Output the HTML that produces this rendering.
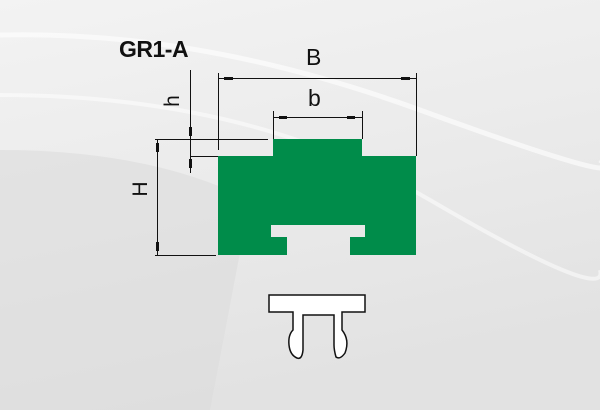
<!DOCTYPE html>
<html><head><style>
html,body{margin:0;padding:0;width:600px;height:410px;overflow:hidden}
</style></head><body>
<svg width="600" height="410" viewBox="0 0 600 410" xmlns="http://www.w3.org/2000/svg">
<defs>
<linearGradient id="bg" x1="0" y1="0" x2="0.3" y2="1">
<stop offset="0" stop-color="#f3f3f3"/>
<stop offset="0.5" stop-color="#ebebeb"/>
<stop offset="1" stop-color="#e2e2e2"/>
</linearGradient>
</defs>
<rect width="600" height="410" fill="url(#bg)"/>
<path d="M0 150 Q150 150 250 200 L210 410 L0 410Z" fill="#dcdcdc" opacity="0.6"/>
<path d="M0 35 Q200 30 420 110 T600 160" stroke="#fff" stroke-width="5" fill="none" opacity="0.6"/>
<path d="M0 95 Q250 95 430 200 T600 270" stroke="#fff" stroke-width="4" fill="none" opacity="0.5"/>

<path d="M218 156 H273 V139 H362 V156 H416 V255 H350 V237 H365 V225 H271 V237 H287 V255 H218Z" fill="#008c4a"/>

<g stroke="#111" stroke-width="1" fill="none">
<line x1="218.5" y1="73" x2="218.5" y2="150"/>
<line x1="416.5" y1="73" x2="416.5" y2="156"/>
<line x1="218" y1="78.5" x2="416" y2="78.5"/>
<line x1="273.5" y1="111" x2="273.5" y2="139"/>
<line x1="362.5" y1="111" x2="362.5" y2="139"/>
<line x1="273" y1="117.5" x2="362" y2="117.5"/>
<line x1="190.5" y1="70" x2="190.5" y2="173"/>
<line x1="155" y1="139.5" x2="268" y2="139.5"/>
<line x1="190" y1="156.5" x2="218" y2="156.5"/>
<line x1="157.5" y1="139" x2="157.5" y2="255"/>
<line x1="155" y1="255.5" x2="216" y2="255.5"/>
</g>
<g fill="#111">
<rect x="224" y="77" width="9" height="3"/>
<rect x="401" y="77" width="9" height="3"/>
<rect x="279" y="116" width="8" height="3"/>
<rect x="347" y="116" width="8" height="3"/>
<rect x="189" y="127" width="3" height="9"/>
<rect x="189" y="159" width="3" height="9"/>
<rect x="156" y="143" width="3" height="9"/>
<rect x="156" y="242" width="3" height="9"/>
</g>

<g font-family="Liberation Sans, sans-serif" fill="#111">
<text x="119" y="57" font-size="23" font-weight="bold" letter-spacing="-0.5">GR1-A</text>
<text x="306" y="65" font-size="23">B</text>
<text x="308" y="106" font-size="23">b</text>
<text transform="translate(179,101) rotate(-90)" font-size="21" text-anchor="middle">h</text>
<text transform="translate(147,189) rotate(-90)" font-size="21" text-anchor="middle">H</text>
</g>

<path d="M269 295 H365 V312 H342 V330 Q350 340 345 353 Q340 360 336 357 Q334 350 334 345 V315 H303 V350 Q302 360 297 358 Q290 355 289 345 Q288 335 293 330 V312 H269Z" fill="#fff" stroke="#111" stroke-width="1.5"/>
</svg>
</body></html>
